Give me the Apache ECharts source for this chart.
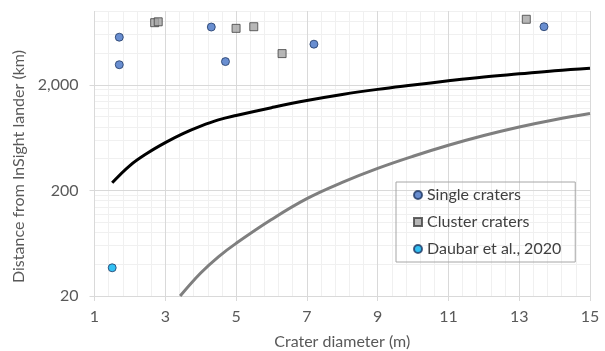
<!DOCTYPE html>
<html>
<head>
<meta charset="utf-8">
<script src="https://cdn.jsdelivr.net/npm/echarts@6/dist/echarts.min.js"></script>
<style>
html, body { margin: 0; padding: 0; background: #fff; }
#chart { width: 605px; height: 351px; }
</style>
</head>
<body>
<div id="chart"></div>
<script>
// crater diameter (m), distance (km)
var singleCraters = [[1.7, 5650], [1.7, 3100], [4.3, 7050], [4.7, 3320], [7.2, 4850], [13.7, 7100]];
var clusterCraters = [[2.7, 7750], [2.8, 7900], [5.0, 6850], [5.5, 7100], [6.3, 3950], [13.2, 8350]];
var daubar2020 = [[1.5, 37]];
// curves
var blackCurve = [[1.5, 236], [2, 344], [2.5, 452], [3, 567], [3.5, 690], [4, 812], [4.5, 930], [5, 1025],
	[6, 1215], [7, 1420], [8, 1620], [9, 1810], [10, 1990], [11, 2180], [12, 2370], [13, 2540], [14, 2720], [15, 2875]];
var grayCurve = [[3.42, 20], [4, 33], [4.5, 47], [5, 63], [6, 106], [7, 167], [8, 238], [9, 323], [10, 421],
	[11, 535], [12, 662], [13, 798], [14, 935], [15, 1070]];
// tick labels
var xTicks = [1, 3, 5, 7, 9, 11, 13, 15];
var yTicks = [20, 200, 2000];
// minor grid (Excel style)
var xMinor = [];
for (var i = 0; i <= 35; i++) xMinor.push(+(1 + i * 0.4).toFixed(1));
var yMinor = [];
[20, 200, 2000].forEach(function(b) {
	for (var k = 1; k <= 10; k++) if (b * k <= 10000) yMinor.push(b * k);
});

var font = 'Lato, "Noto Sans", sans-serif';
var chart = echarts.init(document.getElementById('chart'));
var option = {
	animation: false,
	textStyle: { fontFamily: font },
	grid: { left: 94.5, right: 15, top: 11, bottom: 55, containLabel: false, outerBoundsMode: 'none' },
	legend: {
		orient: 'vertical',
		left: 396,
		top: 182,
		padding: [5, 14, 5, 17],
		itemGap: 11,
		itemWidth: 8,
		itemHeight: 8,
		borderColor: '#a6a6a6',
		borderWidth: 1,
		textStyle: { fontFamily: font, fontSize: 16, color: '#404040' },
		data: ['Single craters', 'Cluster craters', 'Daubar et al., 2020']
	},
	xAxis: [{
		type: 'value',
		min: 1,
		max: 15,
		z: 1,
		name: 'Crater diameter (m)',
		nameLocation: 'middle',
		nameGap: 38,
		nameTextStyle: { fontFamily: font, fontSize: 16, color: '#595959' },
		axisLine: { show: false },
		axisTick: { show: true, length: 5, customValues: xTicks, lineStyle: { color: '#d9d9d9' } },
		axisLabel: { customValues: xTicks, margin: 13, fontFamily: font, fontSize: 16, color: '#595959' },
		splitLine: { show: true, lineStyle: { color: '#d9d9d9' } }
	}, {
		type: 'value',
		min: 1,
		max: 15,
		z: 0,
		axisLine: { show: false },
		axisTick: { show: false, customValues: xMinor },
		axisLabel: { show: false },
		splitLine: { show: true, lineStyle: { color: '#f0f0f0' } }
	}],
	yAxis: [{
		type: 'log',
		logBase: 10,
		min: 20,
		max: 10000,
		z: 1,
		name: 'Distance from InSight lander (km)',
		nameLocation: 'middle',
		nameGap: 56,
		nameTextStyle: { fontFamily: font, fontSize: 16, color: '#595959', padding: [0, 26, 0, 0] },
		axisLine: { show: false },
		axisTick: { show: true, length: 5, customValues: yTicks, lineStyle: { color: '#d9d9d9' } },
		axisLabel: {
			customValues: yTicks, margin: 16, fontFamily: font, fontSize: 16, color: '#595959',
			formatter: function(v) { return Math.round(v).toLocaleString('en-US'); }
		},
		splitLine: { show: true, lineStyle: { color: '#d9d9d9' } }
	}, {
		type: 'log',
		logBase: 10,
		min: 20,
		max: 10000,
		z: 0,
		axisLine: { show: false },
		axisTick: { show: false, customValues: yMinor },
		axisLabel: { show: false },
		splitLine: { show: true, lineStyle: { color: '#f0f0f0' } }
	}],
	series: [{
		name: 'curve1',
		type: 'line',
		smooth: 0.4,
		showSymbol: false,
		lineStyle: { color: '#000', width: 3 },
		data: blackCurve
	}, {
		name: 'curve2',
		type: 'line',
		smooth: 0.4,
		showSymbol: false,
		lineStyle: { color: '#7f7f7f', width: 3 },
		data: grayCurve
	}, {
		name: 'Single craters',
		type: 'scatter',
		symbol: 'circle',
		symbolSize: 8,
		itemStyle: { color: '#4472c4', borderColor: '#1f3864', borderWidth: 1 },
		data: singleCraters
	}, {
		name: 'Cluster craters',
		type: 'scatter',
		symbol: 'rect',
		symbolSize: 8,
		itemStyle: { color: '#a5a5a5', borderColor: '#404040', borderWidth: 1 },
		data: clusterCraters
	}, {
		name: 'Daubar et al., 2020',
		type: 'scatter',
		symbol: 'circle',
		symbolSize: 8,
		itemStyle: { color: '#00b0f0', borderColor: '#1f3864', borderWidth: 1 },
		data: daubar2020
	}]
};
chart.setOption(option);
</script>
</body>
</html>
